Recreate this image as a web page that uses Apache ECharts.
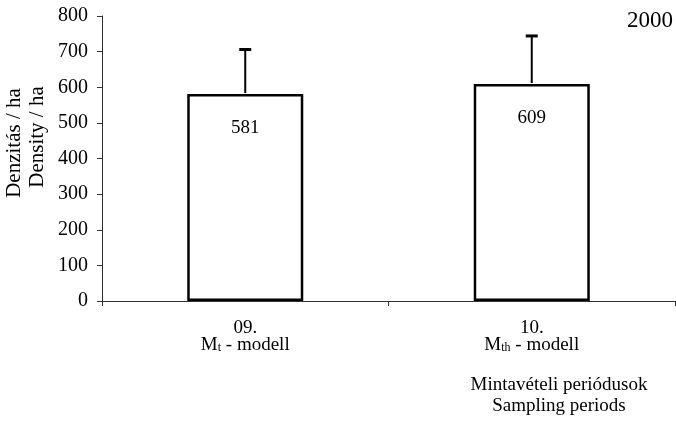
<!DOCTYPE html>
<html>
<head>
<meta charset="utf-8">
<script src="https://cdn.jsdelivr.net/npm/echarts@6/dist/echarts.min.js"></script>
<style>
html,body{margin:0;padding:0;background:#fff;}
#c{width:676px;height:423px;}
</style>
</head>
<body>
<div id="c"></div>
<script>
var categories = ['09.\n{m|M}{s|t}{m| - modell}', '10.\n{m|M}{s|th}{m| - modell}'];
var values = [581, 609];
var errors = [125, 135];
var yTicks = [0, 100, 200, 300, 400, 500, 600, 700, 800];
var yTitle = ['Denzitás / ha', 'Density / ha'];
var xTitle = ['Mintavételi periódusok', 'Sampling periods'];
var yearLabel = '2000';

var FONT = '"Liberation Serif", "Times New Roman", serif';
var chart = echarts.init(document.getElementById('c'));

var errData = values.map(function (v, i) { return [i, v, errors[i]]; });

chart.setOption({
  animation: false,
  backgroundColor: '#fff',
  grid: { left: 102, right: 1, top: 16, bottom: 122, containLabel: false, outerBoundsMode: 'none' },
  xAxis: {
    type: 'category',
    data: categories,
    boundaryGap: true,
    axisLine: { lineStyle: { color: '#333', width: 1 } },
    axisTick: { show: true, alignWithLabel: false, length: 5, lineStyle: { color: '#333' } },
    axisLabel: {
      margin: 19, fontFamily: FONT, fontSize: 19, color: '#000', lineHeight: 17,
      rich: {
        m: { fontFamily: FONT, fontSize: 19, color: '#000', lineHeight: 17 },
        s: { fontFamily: FONT, fontSize: 12, color: '#000', lineHeight: 10, verticalAlign: 'bottom', padding: [14, 0, 0, 0] }
      }
    },
    splitLine: { show: false }
  },
  yAxis: {
    type: 'value',
    min: yTicks[0], max: yTicks[yTicks.length - 1], interval: 100,
    axisLine: { show: true, lineStyle: { color: '#333', width: 1 } },
    axisTick: { show: true, length: 5, lineStyle: { color: '#333' } },
    axisLabel: { margin: 14, fontFamily: FONT, fontSize: 20, color: '#000' },
    splitLine: { show: false }
  },
  series: [
    {
      type: 'bar',
      data: values,
      barWidth: '40.5%',
      itemStyle: { color: '#fff', borderColor: '#000', borderWidth: 2.5 },
      label: {
        show: true, position: 'insideTop', distance: 24,
        fontFamily: FONT, fontSize: 19, color: '#000'
      },
      z: 2
    },
    {
      type: 'custom',
      data: errData,
      z: 3,
      renderItem: function (params, api) {
        var base = api.coord([api.value(0), api.value(1)]);
        var top = api.coord([api.value(0), api.value(1) + api.value(2)]);
        return {
          type: 'group',
          children: [
            { type: 'line', shape: { x1: top[0], y1: top[1], x2: base[0], y2: base[1] - 1 },
              style: { stroke: '#000', lineWidth: 2 } },
            { type: 'line', shape: { x1: top[0] - 6, y1: top[1], x2: top[0] + 6, y2: top[1] },
              style: { stroke: '#000', lineWidth: 3 } }
          ]
        };
      }
    }
  ],
  graphic: [
    {
      type: 'text', x: 673, y: 21,
      style: { text: yearLabel, fontFamily: FONT, fontSize: 23, fill: '#000', align: 'right', verticalAlign: 'middle' }
    },
    {
      type: 'text', x: 14, y: 143, rotation: Math.PI / 2,
      style: { text: yTitle[0], fontFamily: FONT, fontSize: 21, fill: '#000', align: 'center', verticalAlign: 'middle' }
    },
    {
      type: 'text', x: 37, y: 137, rotation: Math.PI / 2,
      style: { text: yTitle[1], fontFamily: FONT, fontSize: 21, fill: '#000', align: 'center', verticalAlign: 'middle' }
    },
    {
      type: 'text', x: 559, y: 385,
      style: { text: xTitle[0], fontFamily: FONT, fontSize: 19, fill: '#000', align: 'center', verticalAlign: 'middle' }
    },
    {
      type: 'text', x: 559, y: 406,
      style: { text: xTitle[1], fontFamily: FONT, fontSize: 19, fill: '#000', align: 'center', verticalAlign: 'middle' }
    }
  ]
});
</script>
</body>
</html>
